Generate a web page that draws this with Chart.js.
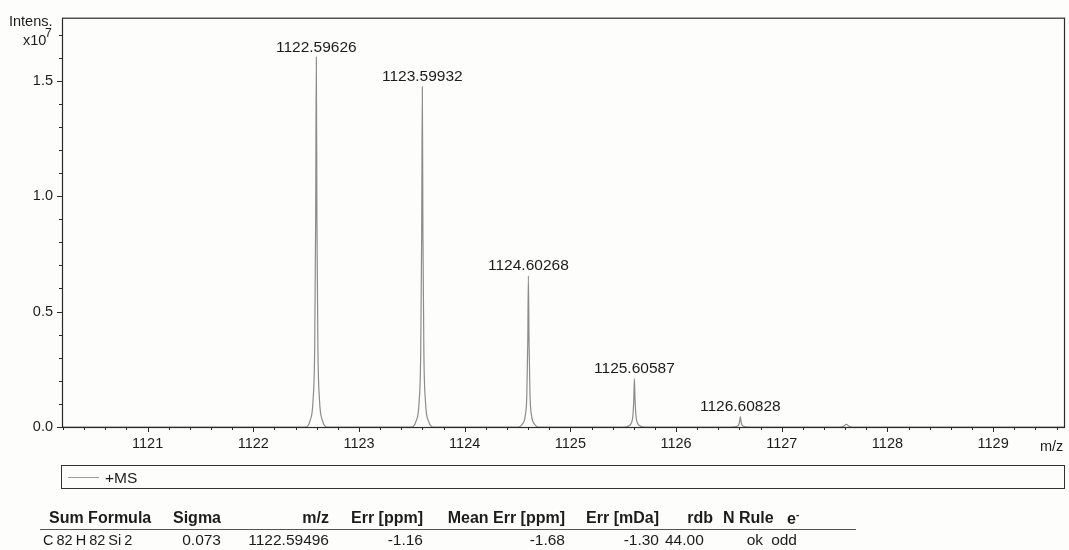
<!DOCTYPE html>
<html>
<head>
<meta charset="utf-8">
<script src="https://cdn.jsdelivr.net/npm/chart.js@4"></script>
<style>
  body { margin: 0; background: #fdfdfc; font-family: 'Liberation Sans', Arial, sans-serif; color: #1c1c1c; }
  #wrap { position: relative; width: 1069px; height: 550px; overflow: hidden; }
  #spec { position: absolute; left: 0; top: 0; }
  .abs { position: absolute; white-space: nowrap; line-height: 1; }
  #legend { position: absolute; left: 61px; top: 465px; width: 1002px; height: 22px; border: 1.5px solid #333; }
  #legend .swatch { position: absolute; left: 6px; top: 11px; width: 31px; border-top: 1px solid #9a9a9a; }
  #legend .name { position: absolute; left: 43px; top: 3px; font-size: 15.5px; }
  .hd { font-weight: bold; font-size: 16px; top: 510px; }
  .td { font-size: 15.5px; top: 532px; }
  #rule { position: absolute; left: 40px; top: 529px; width: 816px; border-top: 1.2px solid #555; }
</style>
</head>
<body>
<div id="wrap">
  <canvas id="spec" width="1069" height="550"></canvas>

  <div id="legend"><span class="swatch"></span><span class="name">+MS</span></div>

  <!-- formula table -->
  <span class="abs hd" style="left:49px">Sum Formula</span>
  <span class="abs hd" style="left:173px">Sigma</span>
  <span class="abs hd" style="right:740px">m/z</span>
  <span class="abs hd" style="right:646px">Err [ppm]</span>
  <span class="abs hd" style="right:504px">Mean Err [ppm]</span>
  <span class="abs hd" style="right:410px">Err [mDa]</span>
  <span class="abs hd" style="right:356px">rdb</span>
  <span class="abs hd" style="left:723px">N Rule</span>
  <span class="abs hd" style="left:787px">e<sup style="font-size:10px">-</sup></span>
  <div id="rule"></div>
  <span class="abs td" style="left:43px; font-size:14.5px; word-spacing:-1px; top:533px">C 82 H 82 Si 2</span>
  <span class="abs td" style="right:848px">0.073</span>
  <span class="abs td" style="right:740px">1122.59496</span>
  <span class="abs td" style="right:646px">-1.16</span>
  <span class="abs td" style="right:504px">-1.68</span>
  <span class="abs td" style="right:410px">-1.30</span>
  <span class="abs td" style="left:665px">44.00</span>
  <span class="abs td" style="right:306px">ok</span>
  <span class="abs td" style="right:272px">odd</span>
</div>

<script>
// profile spectrum, m/z vs intensity (x10^7)
var spectrumMz = [
  1120.19, 1122.496,
  1122.536, 1122.566, 1122.581, 1122.590, 1122.59626, 1122.602, 1122.611, 1122.626, 1122.656, 1122.696,
  1123.499,
  1123.539, 1123.569, 1123.584, 1123.593, 1123.59932, 1123.605, 1123.614, 1123.629, 1123.659, 1123.699,
  1124.503,
  1124.543, 1124.573, 1124.588, 1124.597, 1124.60268, 1124.609, 1124.618, 1124.633, 1124.663, 1124.703,
  1125.506,
  1125.546, 1125.576, 1125.591, 1125.600, 1125.60587, 1125.612, 1125.621, 1125.636, 1125.666, 1125.706,
  1126.508,
  1126.548, 1126.578, 1126.593, 1126.602, 1126.60828, 1126.614, 1126.623, 1126.638, 1126.668, 1126.708,
  1127.550, 1127.585, 1127.611, 1127.637, 1127.670,
  1129.68
];
var spectrumInt = [
  0, 0,
  0.026, 0.12, 0.35, 0.90, 1.602, 0.90, 0.35, 0.12, 0.026, 0,
  0,
  0.024, 0.11, 0.32, 0.83, 1.473, 0.83, 0.32, 0.11, 0.024, 0,
  0,
  0.011, 0.049, 0.14, 0.37, 0.655, 0.37, 0.14, 0.049, 0.011, 0,
  0,
  0.0035, 0.016, 0.046, 0.118, 0.21, 0.118, 0.046, 0.016, 0.0035, 0,
  0,
  0.0007, 0.0034, 0.010, 0.025, 0.045, 0.025, 0.010, 0.0034, 0.0007, 0,
  0, 0.003, 0.012, 0.003, 0,
  0
];

// labelled peaks
var peakMz = [1122.59626, 1123.59932, 1124.60268, 1125.60587, 1126.60828];
var peakInt = [1.602, 1.473, 0.655, 0.21, 0.045];
var peakLabels = ['1122.59626', '1123.59932', '1124.60268', '1125.60587', '1126.60828'];

var xTicks = [1121, 1122, 1123, 1124, 1125, 1126, 1127, 1128, 1129];
var yTicks = [0.0, 0.5, 1.0, 1.5];

var points = spectrumMz.map(function(m, i) { return {x: m, y: spectrumInt[i]}; });

var FONT = "'Liberation Sans', Arial, sans-serif";
Chart.defaults.font.family = FONT;

// frame, minor ticks, peak annotations, axis captions
var spectrumDecor = {
  id: 'spectrumDecor',
  afterDraw: function(chart) {
    var ctx = chart.ctx, a = chart.chartArea;
    var x = chart.scales.x, y = chart.scales.y;
    ctx.save();
    ctx.strokeStyle = '#2a2a2a';
    ctx.lineWidth = 1.2;
    ctx.strokeRect(a.left + 0.5, a.top + 0.5, a.right - a.left - 1, a.bottom - a.top);

    ctx.lineWidth = 1;
    ctx.beginPath();
    for (var v = 1120.2; v < 1129.7; v += 0.2) {
      var px = Math.round(x.getPixelForValue(v)) + 0.5;
      var major = Math.abs(v - Math.round(v)) < 1e-6;
      ctx.moveTo(px, a.bottom);
      ctx.lineTo(px, a.bottom + (major ? 5 : 3));
    }
    for (var w = 0; w < 1.75; w += 0.1) {
      var py = Math.round(y.getPixelForValue(w)) + 0.5;
      var ymaj = Math.abs(w * 2 - Math.round(w * 2)) < 1e-6;
      ctx.moveTo(a.left, py);
      ctx.lineTo(a.left - (ymaj ? 5 : 3), py);
    }
    ctx.stroke();

    ctx.fillStyle = '#1c1c1c';
    ctx.font = '15.5px ' + FONT;
    ctx.textAlign = 'center';
    ctx.textBaseline = 'bottom';
    peakMz.forEach(function(m, i) {
      ctx.fillText(peakLabels[i], x.getPixelForValue(m), y.getPixelForValue(peakInt[i]) - 2);
    });

    ctx.font = '14.5px ' + FONT;
    ctx.textAlign = 'left';
    ctx.textBaseline = 'middle';
    ctx.fillText('Intens.', 9, 22);
    ctx.fillText('x10', 23, 41);
    ctx.font = '12px ' + FONT;
    ctx.fillText('7', 45, 34);
    ctx.font = '14.5px ' + FONT;
    ctx.fillText('m/z', 1040, 447);
    ctx.restore();
  }
};

new Chart(document.getElementById('spec'), {
  type: 'line',
  data: {
    datasets: [{
      label: '+MS',
      data: points,
      borderColor: '#8c8c8c',
      borderWidth: 1.2,
      pointRadius: 0,
      cubicInterpolationMode: 'monotone'
    }]
  },
  options: {
    responsive: false,
    animation: false,
    layout: { padding: { left: 0, top: 13, right: 4, bottom: 93 } },
    plugins: { legend: { display: false }, tooltip: { enabled: false } },
    scales: {
      x: {
        type: 'linear',
        min: 1120.19,
        max: 1129.68,
        grid: { display: false, drawTicks: false },
        border: { display: false },
        afterBuildTicks: function(s) { s.ticks = xTicks.map(function(v) { return {value: v}; }); },
        afterFit: function(s) { s.height = 30; },
        ticks: { color: '#1c1c1c', font: { size: 14.5 }, padding: 8, maxRotation: 0,
                 callback: function(v) { return String(v); } }
      },
      y: {
        min: 0,
        max: 1.773,
        grid: { display: false, drawTicks: false },
        border: { display: false },
        afterBuildTicks: function(s) { s.ticks = yTicks.map(function(v) { return {value: v}; }); },
        afterFit: function(s) { s.width = 62; },
        ticks: { color: '#1c1c1c', font: { size: 14.5 }, padding: 9,
                 callback: function(v) { return v.toFixed(1); } }
      }
    }
  },
  plugins: [spectrumDecor]
});
</script>
</body>
</html>
